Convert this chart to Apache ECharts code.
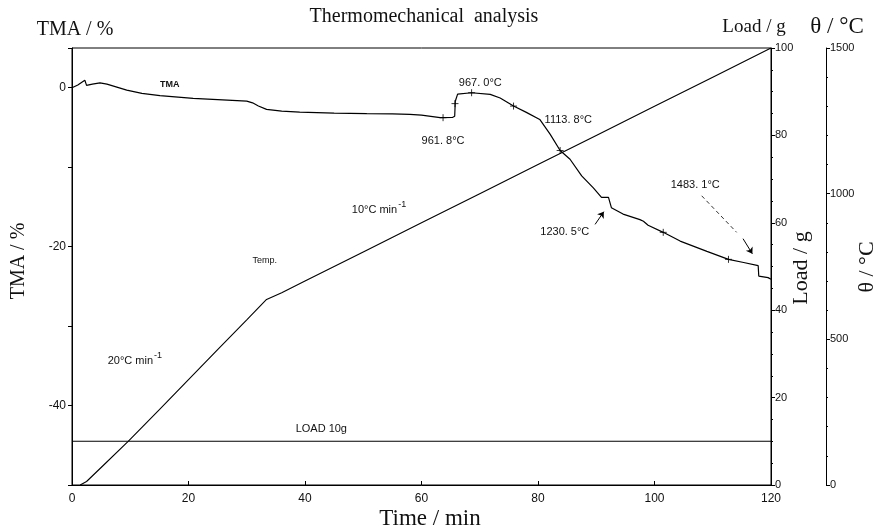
<!DOCTYPE html>
<html><head><meta charset="utf-8">
<script src="https://cdn.jsdelivr.net/npm/echarts@6/dist/echarts.min.js"></script>
<style>html,body{margin:0;padding:0;background:#fff}#c{width:880px;height:532px}</style>
</head><body><div id="c"></div>
<script>
// ---- data ----
const tmaTime  = [0, 1, 2.2, 2.5, 3.5, 4.8, 6.0, 9.4, 12, 15.1, 20.8, 25, 30, 31, 32, 33.4, 36, 39.1, 45, 50.6, 55, 58, 60, 63.2, 65.3, 65.7, 65.8, 66.2, 66.5, 68.6, 71.8, 73.5, 75.8, 78, 80.3, 82.1, 83.8, 85.5, 87.5, 89.5, 90.9, 92.1, 92.6, 94.6, 97.5, 98.1, 98.9, 101.5, 104.4, 109.0, 112.7, 115.3, 117.8, 117.9, 119.5, 120];
const tmaValue = [0, 0.35, 0.95, 0.3, 0.45, 0.6, 0.45, -0.3, -0.7, -1.0, -1.35, -1.5, -1.69, -1.9, -2.3, -2.73, -2.95, -3.07, -3.2, -3.27, -3.3, -3.35, -3.45, -3.77, -3.75, -3.6, -1.7, -0.8, -0.63, -0.63, -0.84, -1.3, -2.31, -3.1, -3.99, -5.87, -7.9, -9.0, -11.1, -12.6, -13.8, -13.8, -15.1, -15.9, -16.6, -16.8, -17.3, -18.2, -19.3, -20.6, -21.6, -22.0, -22.4, -23.7, -23.9, -24.1];
const tempTime  = [1.4, 2.5, 5, 9.6, 15, 20, 25, 30, 33.4, 36, 40, 50, 60, 70, 80, 90, 100, 110, 120];
const tempValue = [0, 12, 60, 149, 259, 362, 465, 567, 637, 660, 700, 800, 900, 1000, 1100, 1200, 1300, 1400, 1500];
const loadTime  = [0, 120];
const loadValue = [10, 10];
const crossTime  = [63.7, 65.75, 68.6, 75.8, 83.8, 101.5, 112.7];
const crossValue = [-3.77, -2.0, -0.63, -2.31, -7.9, -18.2, -21.6];
const xTicks = {min: 0, max: 120, step: 20};
const tmaTicks = {min: -50, max: 5, step: 10, labelEvery: 20};
const loadTicks = {min: 0, max: 100, step: 20};
const thetaTicks = {min: 0, max: 1500, step: 500};
// annotations: [text, time, TMA value]
const notes = [
  ['TMA', 16.8, 0.4],
  ['961. 8°C', 63.7, -6.7],
  ['967. 0°C', 70.1, 0.6],
  ['1113. 8°C', 85.2, -4.0],
  ['1230. 5°C', 84.6, -18.2],
  ['1483. 1°C', 107, -12.2],
  ['Temp.', 33.1, -21.7],
  ['LOAD 10g', 42.8, -42.9]
];
const rateNotes = [
  ['10°C min', 52.7, -15.4],
  ['20°C min', 10.8, -34.4]
];

const zip = (a, b) => a.map((v, i) => [v, b[i]]);
const chart = echarts.init(document.getElementById('c'));
const lab = {color: '#111', fontFamily: 'Liberation Sans', fontSize: 11};
const plusPath = 'path://M0,5L10,5M5,0L5,10';

const markData = notes.map(n => ({
  name: n[0], coord: [n[1], n[2]],
  label: {show: true, position: 'inside', formatter: n[0], color: '#111',
          fontFamily: 'Liberation Sans', fontSize: n[0] === 'TMA' || n[0] === 'Temp.' ? 9 : 11,
          fontWeight: n[0] === 'TMA' ? 'bold' : 'normal'}
})).concat(rateNotes.map(n => ({
  name: n[0], coord: [n[1], n[2]],
  label: {show: true, position: 'inside', formatter: n[0] + '{s|-1}', color: '#111',
          fontFamily: 'Liberation Sans', fontSize: 11,
          rich: {s: {fontSize: 9, fontFamily: 'Liberation Sans', color: '#111', padding: [0, 0, 12, 1]}}}
})));

chart.setOption({
  animation: false,
  backgroundColor: '#fff',
  grid: {left: 72, right: 109, top: 48, bottom: 47, show: true, borderColor: '#000', borderWidth: 1},
  xAxis: {type: 'value', min: xTicks.min, max: xTicks.max, interval: xTicks.step,
    axisLine: {onZero: false, lineStyle: {color: '#000'}}, axisTick: {show: true, length: 4, inside: true, lineStyle: {color: '#000'}},
    axisLabel: Object.assign({margin: 8, fontSize: 12}, lab, {fontSize: 12}), splitLine: {show: false}},
  yAxis: [
    {type: 'value', position: 'left', min: tmaTicks.min, max: tmaTicks.max, interval: tmaTicks.step,
      axisLine: {show: true, onZero: false, lineStyle: {color: '#000'}}, axisTick: {show: true, length: 4, lineStyle: {color: '#000'}},
      axisLabel: Object.assign({}, lab, {margin: 6, fontSize: 12, formatter: v => (v % tmaTicks.labelEvery === 0 && v <= 0) ? String(v) : ''}),
      splitLine: {show: false}},
    {type: 'value', position: 'right', min: loadTicks.min, max: loadTicks.max, interval: loadTicks.step,
      axisLine: {show: true, onZero: false, lineStyle: {color: '#000'}}, axisTick: {show: true, length: 4, lineStyle: {color: '#000'}},
      minorTick: {show: true, splitNumber: 4, length: 2, lineStyle: {color: '#000'}},
      axisLabel: Object.assign({}, lab, {margin: 4, fontSize: 11, formatter: v => String(v)}), splitLine: {show: false}},
    {type: 'value', position: 'right', offset: 55, min: thetaTicks.min, max: thetaTicks.max, interval: thetaTicks.step,
      axisLine: {show: true, onZero: false, lineStyle: {color: '#000'}}, axisTick: {show: true, length: 4, lineStyle: {color: '#000'}},
      minorTick: {show: true, splitNumber: 5, length: 2, lineStyle: {color: '#000'}},
      axisLabel: Object.assign({}, lab, {margin: 4, fontSize: 11, formatter: v => String(v)}), splitLine: {show: false}}
  ],
  series: [
    {name: 'TMA', type: 'line', yAxisIndex: 0, data: zip(tmaTime, tmaValue), showSymbol: false,
      lineStyle: {color: '#000', width: 1.2}, z: 3,
      markPoint: {symbol: 'rect', symbolSize: 1, itemStyle: {color: 'rgba(0,0,0,0)'}, data: markData},
      markLine: {silent: true, symbol: ['none', 'arrow'], symbolSize: 6, label: {show: false},
        lineStyle: {color: '#000', width: 1, type: 'solid'},
        data: [
          [{coord: [89.8, -17.2]}, {coord: [91.3, -15.6]}],
          [{coord: [108.1, -13.6], symbol: 'none', lineStyle: {type: [4, 3], width: 0.8}}, {coord: [114.1, -18.2], symbol: 'none'}],
          [{coord: [115.2, -19.0]}, {coord: [116.8, -20.9]}]
        ]}},
    {name: 'Temp.', type: 'line', yAxisIndex: 2, data: zip(tempTime, tempValue), showSymbol: false,
      lineStyle: {color: '#000', width: 1.1}, z: 2},
    {name: 'Load', type: 'line', yAxisIndex: 1, data: zip(loadTime, loadValue), showSymbol: false,
      lineStyle: {color: '#000', width: 1.1}, z: 2},
    {name: 'marks', type: 'scatter', yAxisIndex: 0, data: zip(crossTime, crossValue), symbol: plusPath, symbolSize: 7,
      itemStyle: {color: 'none', borderColor: '#000', borderWidth: 1}, z: 4}
  ],
  graphic: [
    {type: 'text', x: 424, y: 17, style: {text: 'Thermomechanical  analysis', font: '20px "Liberation Serif"', fill: '#111', align: 'center', verticalAlign: 'middle'}},
    {type: 'text', x: 75, y: 30, style: {text: 'TMA / %', font: '20px "Liberation Serif"', fill: '#111', align: 'center', verticalAlign: 'middle'}},
    {type: 'text', x: 754, y: 27, style: {text: 'Load / g', font: '19px "Liberation Serif"', fill: '#111', align: 'center', verticalAlign: 'middle'}},
    {type: 'text', x: 837, y: 27, style: {text: 'θ / °C', font: '23px "Liberation Serif"', fill: '#111', align: 'center', verticalAlign: 'middle'}},
    {type: 'text', x: 430, y: 519, style: {text: 'Time / min', font: '23px "Liberation Serif"', fill: '#111', align: 'center', verticalAlign: 'middle'}},
    {type: 'text', x: 19, y: 261, rotation: Math.PI / 2, style: {text: 'TMA / %', font: '20px "Liberation Serif"', fill: '#111', align: 'center', verticalAlign: 'middle'}},
    {type: 'text', x: 801, y: 268, rotation: Math.PI / 2, style: {text: 'Load / g', font: '22px "Liberation Serif"', fill: '#111', align: 'center', verticalAlign: 'middle'}},
    {type: 'text', x: 867, y: 267, rotation: Math.PI / 2, style: {text: 'θ / °C', font: '22px "Liberation Serif"', fill: '#111', align: 'center', verticalAlign: 'middle'}}
  ]
});
</script></body></html>
